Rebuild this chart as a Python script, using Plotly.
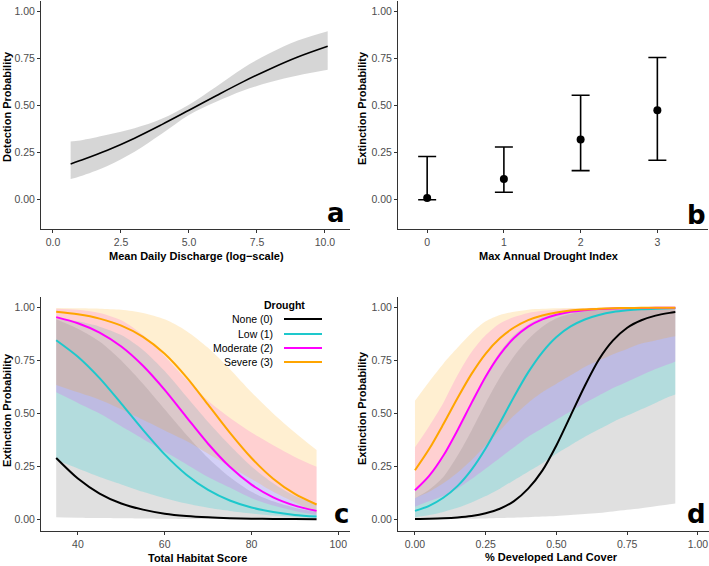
import plotly.graph_objects as go

W, H = 709, 566

# ---------------- Panel a data ----------------
a_x = [0.65, 1, 2, 3, 4, 5, 6, 7, 8, 9, 10.1]
a_mean = [0.19, 0.208, 0.263, 0.327, 0.399, 0.475, 0.552, 0.627, 0.696, 0.758, 0.815]
a_upper = [0.31, 0.315, 0.345, 0.38, 0.43, 0.505, 0.6, 0.7, 0.78, 0.845, 0.895]
a_lower = [0.11, 0.125, 0.18, 0.255, 0.35, 0.45, 0.52, 0.58, 0.625, 0.66, 0.69]

# ---------------- Panel b data ----------------
b_x = [0, 1, 2, 3]
b_mean = [0.01, 0.11, 0.32, 0.475]
b_lower = [0.0, 0.04, 0.155, 0.21]
b_upper = [0.23, 0.28, 0.555, 0.755]

# ---------------- Panel c data ----------------
c_x = [35, 40, 45, 50, 55, 60, 65, 70, 75, 80, 85, 90, 95]
c_none = [0.29, 0.193, 0.122, 0.075, 0.046, 0.027, 0.016, 0.0095, 0.0055, 0.0032, 0.0019, 0.0011, 0.0007]
c_low = [0.846, 0.768, 0.667, 0.547, 0.423, 0.307, 0.211, 0.139, 0.089, 0.056, 0.035, 0.021, 0.013]
c_mod = [0.955, 0.926, 0.882, 0.816, 0.725, 0.611, 0.483, 0.357, 0.248, 0.164, 0.104, 0.065, 0.04]
c_sev = [0.98, 0.968, 0.948, 0.915, 0.862, 0.782, 0.672, 0.542, 0.41, 0.29, 0.192, 0.12, 0.07]
c_none_lo = [0.01, 0.008, 0.006, 0.005, 0.004, 0.003, 0.002, 0.0015, 0.001, 0.001, 0.0005, 0.0005, 0.0003]
c_none_hi = [0.945, 0.9, 0.84, 0.75, 0.64, 0.52, 0.4, 0.29, 0.2, 0.13, 0.085, 0.055, 0.035]
c_low_lo = [0.28, 0.24, 0.2, 0.165, 0.13, 0.1, 0.075, 0.055, 0.04, 0.028, 0.018, 0.011, 0.007]
c_low_hi = [0.95, 0.935, 0.91, 0.87, 0.8, 0.7, 0.58, 0.46, 0.35, 0.25, 0.17, 0.11, 0.075]
c_mod_lo = [0.6, 0.55, 0.5, 0.44, 0.38, 0.32, 0.26, 0.2, 0.15, 0.1, 0.065, 0.04, 0.02]
c_mod_hi = [0.995, 0.99, 0.975, 0.94, 0.87, 0.77, 0.66, 0.56, 0.48, 0.41, 0.35, 0.295, 0.248]
c_sev_lo = [0.635, 0.6, 0.565, 0.52, 0.47, 0.42, 0.37, 0.31, 0.25, 0.19, 0.13, 0.08, 0.03]
c_sev_hi = [0.998, 0.997, 0.995, 0.99, 0.975, 0.945, 0.89, 0.81, 0.71, 0.6, 0.5, 0.41, 0.327]

# ---------------- Panel d data ----------------
d_x = [0, 0.05, 0.1, 0.15, 0.2, 0.25, 0.3, 0.35, 0.4, 0.45, 0.5, 0.55, 0.6, 0.65, 0.7, 0.75, 0.8, 0.85, 0.9, 0.92]
d_none = [0.002, 0.003, 0.005, 0.009, 0.016, 0.029, 0.05, 0.086, 0.145, 0.23, 0.35, 0.49, 0.63, 0.755, 0.845, 0.905, 0.94, 0.962, 0.975, 0.979]
d_low = [0.04, 0.064, 0.102, 0.157, 0.235, 0.336, 0.455, 0.579, 0.694, 0.789, 0.861, 0.911, 0.944, 0.965, 0.979, 0.987, 0.992, 0.995, 0.997, 0.998]
d_mod = [0.137, 0.205, 0.3, 0.42, 0.55, 0.675, 0.778, 0.856, 0.91, 0.944, 0.966, 0.98, 0.988, 0.993, 0.9955, 0.997, 0.998, 0.999, 0.999, 0.999]
d_sev = [0.232, 0.332, 0.449, 0.572, 0.687, 0.783, 0.855, 0.906, 0.941, 0.963, 0.977, 0.986, 0.991, 0.995, 0.997, 0.998, 0.9988, 0.9993, 0.9996, 0.9997]
d_none_lo = [0.0, 0.0005, 0.001, 0.002, 0.003, 0.004, 0.006, 0.008, 0.01, 0.013, 0.016, 0.02, 0.025, 0.03, 0.037, 0.045, 0.053, 0.062, 0.071, 0.075]
d_none_hi = [0.1, 0.14, 0.2, 0.3, 0.42, 0.55, 0.67, 0.77, 0.85, 0.91, 0.95, 0.97, 0.983, 0.99, 0.995, 0.997, 0.998, 0.999, 0.999, 0.999]
d_low_lo = [0.01, 0.02, 0.035, 0.055, 0.08, 0.11, 0.145, 0.185, 0.225, 0.265, 0.31, 0.35, 0.39, 0.425, 0.46, 0.49, 0.52, 0.55, 0.58, 0.59]
d_low_hi = [0.14, 0.2, 0.29, 0.41, 0.55, 0.68, 0.79, 0.87, 0.92, 0.955, 0.975, 0.986, 0.992, 0.995, 0.997, 0.998, 0.998, 0.999, 0.999, 0.999]
d_mod_lo = [0.06, 0.085, 0.11, 0.145, 0.19, 0.24, 0.29, 0.34, 0.39, 0.43, 0.47, 0.51, 0.55, 0.585, 0.62, 0.65, 0.68, 0.71, 0.735, 0.746]
d_mod_hi = [0.34, 0.44, 0.55, 0.68, 0.79, 0.87, 0.925, 0.955, 0.975, 0.985, 0.99, 0.994, 0.996, 0.998, 0.998, 0.999, 0.999, 0.999, 0.999, 0.999]
d_sev_lo = [0.1, 0.13, 0.17, 0.22, 0.28, 0.35, 0.42, 0.49, 0.55, 0.6, 0.64, 0.68, 0.72, 0.75, 0.78, 0.805, 0.83, 0.845, 0.86, 0.865]
d_sev_hi = [0.56, 0.65, 0.735, 0.81, 0.88, 0.935, 0.965, 0.98, 0.99, 0.994, 0.997, 0.998, 0.998, 0.999, 0.999, 0.999, 0.999, 0.999, 0.999, 0.999]

drought_labels = ["None (0)", "Low (1)", "Moderate (2)", "Severe (3)"]
line_colors = ["#000000", "#1EC8CC", "#FF00FF", "#FFA500"]
fill_colors = ["rgba(0,0,0,0.12)", "rgba(0,206,209,0.2)", "rgba(255,0,255,0.15)", "rgba(255,165,0,0.18)"]

FONT = "Liberation Sans, Arial, sans-serif"
TICKC = "#4D4D4D"

fig = go.Figure()

# Panel a
fig.add_trace(go.Scatter(x=a_x, y=a_upper, mode="lines", line=dict(width=0, shape="spline"),
                         xaxis="x", yaxis="y", showlegend=False, hoverinfo="skip"))
fig.add_trace(go.Scatter(x=a_x, y=a_lower, mode="lines", line=dict(width=0, shape="spline"),
                         fill="tonexty", fillcolor="rgba(51,51,51,0.2)",
                         xaxis="x", yaxis="y", showlegend=False, hoverinfo="skip"))
fig.add_trace(go.Scatter(x=a_x, y=a_mean, mode="lines", line=dict(color="black", width=1.6, shape="spline"),
                         xaxis="x", yaxis="y", showlegend=False))

# Panel b
fig.add_trace(go.Scatter(
    x=b_x, y=b_mean, mode="markers",
    marker=dict(color="black", size=8),
    error_y=dict(type="data", symmetric=False,
                 array=[u - m for u, m in zip(b_upper, b_mean)],
                 arrayminus=[m - l for m, l in zip(b_mean, b_lower)],
                 color="black", thickness=1.6, width=9),
    xaxis="x2", yaxis="y2", showlegend=False))


def add_bands(xs, bands, means, xa, ya):
    for (lo, hi), fc in zip(bands, fill_colors):
        fig.add_trace(go.Scatter(x=xs, y=hi, mode="lines", line=dict(width=0, shape="spline", smoothing=0.8),
                                 xaxis=xa, yaxis=ya, showlegend=False, hoverinfo="skip"))
        fig.add_trace(go.Scatter(x=xs, y=lo, mode="lines", line=dict(width=0, shape="spline", smoothing=0.8),
                                 fill="tonexty", fillcolor=fc,
                                 xaxis=xa, yaxis=ya, showlegend=False, hoverinfo="skip"))
    for m, lc, name in zip(means, line_colors, drought_labels):
        fig.add_trace(go.Scatter(x=xs, y=m, mode="lines", name=name,
                                 line=dict(color=lc, width=2, shape="spline", smoothing=0.8),
                                 xaxis=xa, yaxis=ya, showlegend=False))


add_bands(c_x, [(c_none_lo, c_none_hi), (c_low_lo, c_low_hi), (c_mod_lo, c_mod_hi), (c_sev_lo, c_sev_hi)],
          [c_none, c_low, c_mod, c_sev], "x3", "y3")
add_bands(d_x, [(d_none_lo, d_none_hi), (d_low_lo, d_low_hi), (d_mod_lo, d_mod_hi), (d_sev_lo, d_sev_hi)],
          [d_none, d_low, d_mod, d_sev], "x4", "y4")


def px_x(p):
    return p / W


def px_y(p):
    return 1 - p / H


def ax(domain, rng, tickvals, ticktext, anchor):
    return dict(domain=domain, range=rng, tickvals=tickvals, ticktext=ticktext, anchor=anchor,
                showline=True, linecolor="#333333", linewidth=1.1, ticks="outside", ticklen=3,
                tickcolor="#333333", tickwidth=1, showgrid=False, zeroline=False,
                tickfont=dict(family=FONT, size=10.5, color=TICKC), fixedrange=True)


yt = [0, 0.25, 0.5, 0.75, 1.0]
ytt = ["0.00", "0.25", "0.50", "0.75", "1.00"]

xa_dom = [px_x(41), px_x(350)]
xb_dom = [px_x(398), px_x(708)]
ytop_dom = [px_y(229), px_y(1)]
ybot_dom = [px_y(531), px_y(297)]

fig.update_layout(
    width=W, height=H, margin=dict(l=0, r=0, t=0, b=0),
    paper_bgcolor="white", plot_bgcolor="white", showlegend=False,
    xaxis=ax(xa_dom, [-0.44, 10.92], [0, 2.5, 5, 7.5, 10], ["0.0", "2.5", "5.0", "7.5", "10.0"], "y"),
    yaxis=ax(ytop_dom, [-0.155, 1.055], yt, ytt, "x"),
    xaxis2=ax(xb_dom, [-0.38, 3.66], [0, 1, 2, 3], ["0", "1", "2", "3"], "y2"),
    yaxis2=ax(ytop_dom, [-0.155, 1.055], yt, ytt, "x2"),
    xaxis3=ax(xa_dom, [31.5, 102.7], [40, 60, 80, 100], ["40", "60", "80", "100"], "y3"),
    yaxis3=ax(ybot_dom, [-0.055, 1.05], yt, ytt, "x3"),
    xaxis4=ax([px_x(398), 1.0], [-0.06, 1.039], [0, 0.25, 0.5, 0.75, 1.0], ["0.00", "0.25", "0.50", "0.75", "1.00"], "y4"),
    yaxis4=ax(ybot_dom, [-0.055, 1.05], yt, ytt, "x4"),
)

ann = []
TF = dict(family=FONT, size=11, color="black")


def title_ann(text, x, y, angle=0):
    ann.append(dict(text="<b>%s</b>" % text, x=px_x(x), y=px_y(y), xref="paper", yref="paper",
                    showarrow=False, xanchor="center", yanchor="middle", textangle=angle, font=TF))


title_ann("Mean Daily Discharge (log\u2212scale)", 196, 256)
title_ann("Max Annual Drought Index", 549, 256)
title_ann("Total Habitat Score", 197, 558)
title_ann("% Developed Land Cover", 551, 557)
title_ann("Detection Probability", 7, 107, -90)
title_ann("Extinction Probability", 362, 108, -90)
title_ann("Extinction Probability", 7, 410, -90)
title_ann("Extinction Probability", 362, 408, -90)

LF = dict(family="DejaVu Sans, sans-serif", size=26, color="black")
for lab, xr, yc in [("a", 347, 213), ("b", 708, 215), ("c", 351, 514), ("d", 708, 514)]:
    ann.append(dict(text="<b>%s</b>" % lab, x=px_x(xr), y=px_y(yc), xref="paper", yref="paper",
                    showarrow=False, xanchor="right", yanchor="middle", font=LF))

# legend for panel c (drawn manually: text right-aligned, key on the right)
ann.append(dict(text="<b>Drought</b>", x=px_x(284), y=px_y(305), xref="paper", yref="paper",
                showarrow=False, xanchor="center", yanchor="middle",
                font=dict(family=FONT, size=10.5, color="black")))
shapes = []
leg_rows = [319, 334, 348, 362]
for lab, col, yy in zip(drought_labels, line_colors, leg_rows):
    ann.append(dict(text=lab, x=px_x(275), y=px_y(yy), xref="paper", yref="paper",
                    showarrow=False, xanchor="right", yanchor="middle",
                    font=dict(family=FONT, size=10.5, color="black")))
    shapes.append(dict(type="line", xref="paper", yref="paper", x0=px_x(284), x1=px_x(322),
                       y0=px_y(yy), y1=px_y(yy), line=dict(color=col, width=2)))

fig.update_layout(annotations=ann, shapes=shapes)
fig.write_html("out.html")
